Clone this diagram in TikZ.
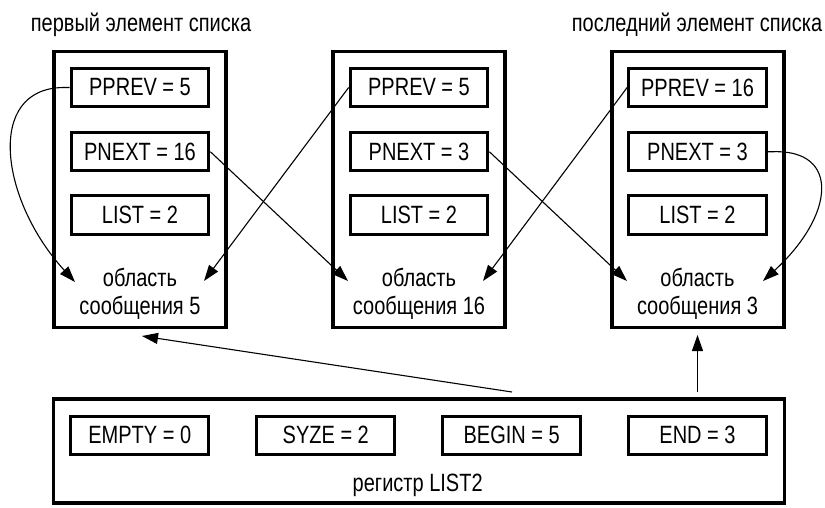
\documentclass[tikz,border=0pt]{standalone}
\usepackage{fontspec}
\setmainfont{Liberation Sans}
\newfontfamily\lbl[FakeStretch=0.8]{Liberation Sans}
\usetikzlibrary{arrows.meta}
\begin{document}
\begin{tikzpicture}[x=1pt,y=-1pt,
  outer/.style={draw,line width=3.5pt,minimum width=172pt,minimum height=275.6pt,inner sep=0pt},
  field/.style={draw,line width=3pt,minimum width=137.7pt,minimum height=38.5pt,inner sep=0pt,font=\lbl\fontsize{25}{28}\selectfont},
  txt/.style={font=\lbl\fontsize{25}{28}\selectfont,inner sep=0pt,anchor=base},
  conn/.style={line width=1.1pt,-{Triangle[length=16pt,width=11pt]}},
]
\useasboundingbox (0,0) rectangle (825,507);
% top labels
\node[txt] (first) at (141,31.7) {первый элемент списка};
\node[txt] (last) at (697,31.7) {последний элемент списка};
% list elements
\node[outer] (b1) at (140,189.5) {};
\node[outer] (b2) at (419,189.5) {};
\node[outer] (b3) at (698.2,189.5) {};
\node[field] (pp1) at (140,87.5) {PPREV = 5};
\node[field] (pn1) at (140,151.7) {PNEXT = 16};
\node[field] (ls1) at (140,215.2) {LIST = 2};
\node[field] (pp2) at (419,87.5) {PPREV = 5};
\node[field] (pn2) at (419,151.7) {PNEXT = 3};
\node[field] (ls2) at (419,215.2) {LIST = 2};
\node[field] (pp3) at (697.5,87.5) {PPREV = 16};
\node[field] (pn3) at (697.5,151.7) {PNEXT = 3};
\node[field] (ls3) at (697.5,215.2) {LIST = 2};
\node[txt] (m1a) at (140,286.7) {область};
\node[txt] (m1b) at (140,314.3) {сообщения 5};
\node[txt] (m2a) at (419,286.7) {область};
\node[txt] (m2b) at (419,314.3) {сообщения 16};
\node[txt] (m3a) at (697.5,286.7) {область};
\node[txt] (m3b) at (697.5,314.3) {сообщения 3};
% register
\node[draw,line width=3.5pt,minimum width=731pt,minimum height=104.3pt,inner sep=0pt] (reg) at (419.2,450.9) {};
\node[field] (em) at (139.8,435.3) {EMPTY = 0};
\node[field] (sz) at (325.8,435.3) {SYZE = 2};
\node[field] (bg) at (511.7,435.3) {BEGIN = 5};
\node[field] (en) at (697.5,435.3) {END = 3};
\node[txt] (regl) at (417.7,491.7) {регистр LIST2};
% arrow end points
\coordinate (t1l) at (75,282);
\coordinate (t1r) at (204,281);
\coordinate (t2l) at (348,281);
\coordinate (t2r) at (483,281);
\coordinate (t3l) at (627,281);
\coordinate (t3r) at (763,281);
\coordinate (t1b) at (142,336);
\coordinate (t3b) at (697.5,335);
\coordinate (sbeg) at (512,392);
\coordinate (send) at (697.5,392);
% connectors
\draw[conn] (pp1.west) -- ++(-6,0) .. controls (-15,88) and (0,200) .. (t1l);
\draw[conn] (pp2.west) -- (t1r);
\draw[conn] (pn1.east) -- (t2l);
\draw[conn] (pn2.east) -- (t3l);
\draw[conn] (pp3.west) -- (t2r);
\draw[conn] (pn3.east) -- ++(6,0) .. controls (840,150) and (835,215) .. (t3r);
\draw[conn] (sbeg) -- (t1b);
\draw[conn] (send) -- (t3b);
\end{tikzpicture}
\end{document}
